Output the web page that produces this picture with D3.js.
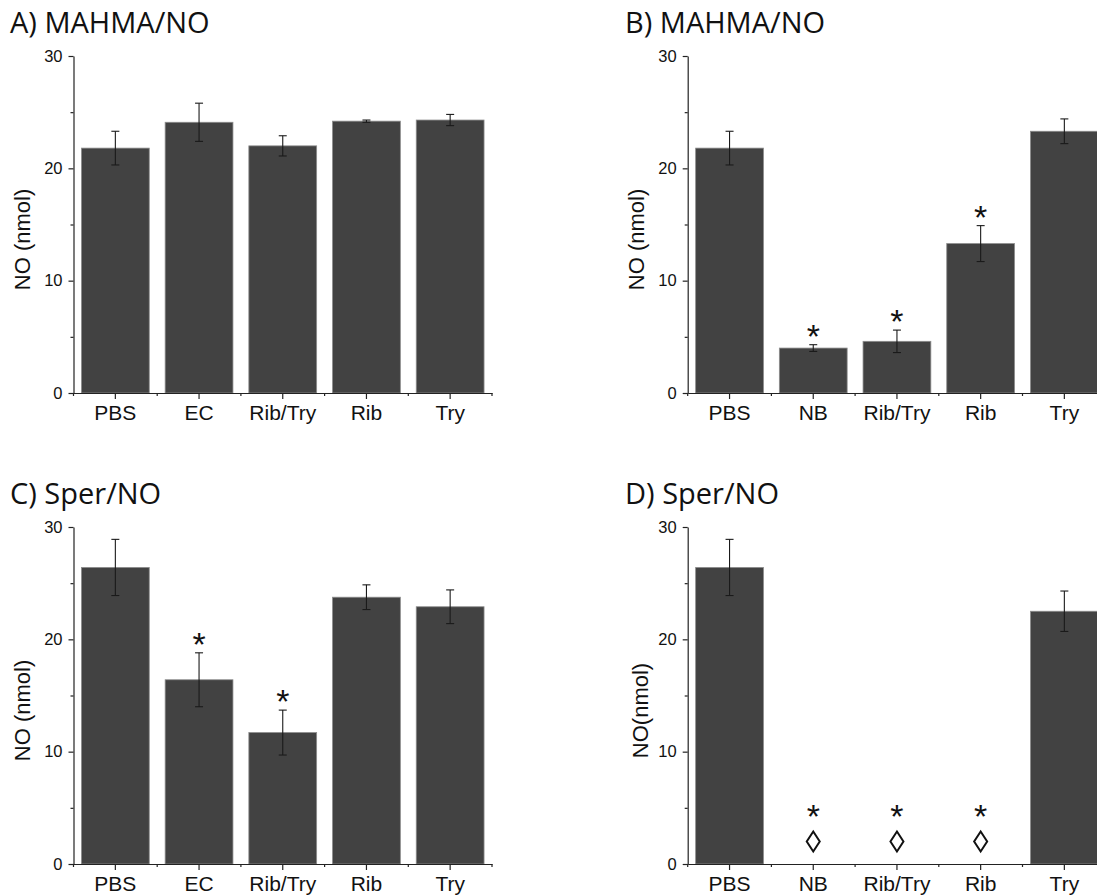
<!DOCTYPE html>
<html>
<head>
<meta charset="utf-8">
<script src="https://cdn.jsdelivr.net/npm/d3@7"></script>
<style>
  body { margin: 0; background: #fff; }
  svg { display: block; }
</style>
</head>
<body>
<svg id="svg" width="1097" height="896"></svg>
<script>
// categories
const catsAC = ["PBS", "EC", "Rib/Try", "Rib", "Try"];
const catsBD = ["PBS", "NB", "Rib/Try", "Rib", "Try"];

// means (nmol) and error bars
const meanA = [21.8, 24.1, 22.0, 24.2, 24.3];
const errA  = [1.5, 1.7, 0.9, 0.1, 0.5];
const meanB = [21.8, 4.0, 4.6, 13.3, 23.3];
const errB  = [1.5, 0.3, 1.0, 1.6, 1.1];
const meanC = [26.4, 16.4, 11.7, 23.75, 22.9];
const errC  = [2.5, 2.4, 2.0, 1.1, 1.5];
const meanD = [26.4, 0, 0, 0, 22.5];
const errD  = [2.5, 0, 0, 0, 1.8];

// significance marks
const starA = [0, 0, 0, 0, 0];
const starB = [0, 1, 1, 1, 0];
const starC = [0, 1, 1, 0, 0];
const starD = [0, 1, 1, 1, 0];
const diamD = [0, 1, 1, 1, 0];
const starLevelD = 4.9;   // centre of the * in D (no bar there)
const diamLevelD = 2.0;   // centre of the ◊ in D

const yTicks = [0, 5, 10, 15, 20, 25, 30];

const panels = [
  {title: "A) MAHMA/NO", cats: catsAC, mean: meanA, err: errA, star: starA, ylab: "NO (nmol)",
   x0: 73.5, y0: 393, y1: 56, tx: 10, ty: 33, labX: 30},
  {title: "B) MAHMA/NO", cats: catsBD, mean: meanB, err: errB, star: starB, ylab: "NO (nmol)",
   x0: 687.7, y0: 393, y1: 56, tx: 625, ty: 33, labX: 644},
  {title: "C) Sper/NO", cats: catsAC, mean: meanC, err: errC, star: starC, ylab: "NO (nmol)",
   x0: 73.5, y0: 864, y1: 527, tx: 10, ty: 504, labX: 30},
  {title: "D) Sper/NO", cats: catsBD, mean: meanD, err: errD, star: starD, diam: diamD, ylab: "NO(nmol)",
   x0: 687.7, y0: 864, y1: 527, tx: 625, ty: 504, labX: 648}
];
const step = 83.7;

const svg = d3.select("#svg");
const axisFont = "'Liberation Sans', Arial, sans-serif";
const starSize = 34;

panels.forEach(p => {
  const g = svg.append("g");
  const x = d3.scaleBand(p.cats, [p.x0, p.x0 + step * p.cats.length]).padding(0);
  const y = d3.scaleLinear([0, 30], [p.y0, p.y1]);
  const bw = x.bandwidth() * 0.81;
  const cx = d => x(d) + x.bandwidth() / 2;

  g.append("text")
    .attr("x", p.tx).attr("y", p.ty)
    .attr("font-family", "'Open Sans', sans-serif")
    .attr("font-size", 29).attr("fill", "#111")
    .text(p.title);

  const rows = p.cats.map((c, i) => ({c, v: p.mean[i], e: p.err[i], s: p.star[i], d: p.diam ? p.diam[i] : 0}));

  // bars
  g.selectAll("rect.bar").data(rows.filter(r => r.v > 0)).join("rect")
    .attr("class", "bar")
    .attr("x", r => cx(r.c) - bw / 2)
    .attr("width", bw)
    .attr("y", r => y(r.v))
    .attr("height", r => y(0) - y(r.v))
    .attr("fill", "#424242")
    .attr("stroke", "#8c8c8c").attr("stroke-width", 0.8);

  // error bars
  const eb = g.selectAll("g.err").data(rows.filter(r => r.e > 0)).join("g").attr("class", "err")
    .attr("stroke", "#1a1a1a").attr("stroke-width", 1.1);
  eb.append("line")
    .attr("x1", r => cx(r.c)).attr("x2", r => cx(r.c))
    .attr("y1", r => y(r.v + r.e)).attr("y2", r => y(r.v - r.e));
  eb.append("line")
    .attr("x1", r => cx(r.c) - 4).attr("x2", r => cx(r.c) + 4)
    .attr("y1", r => y(r.v + r.e)).attr("y2", r => y(r.v + r.e));
  eb.append("line")
    .attr("x1", r => cx(r.c) - 4).attr("x2", r => cx(r.c) + 4)
    .attr("y1", r => y(r.v - r.e)).attr("y2", r => y(r.v - r.e));

  // asterisks: glyph centre sits ~0.57em above the baseline
  g.selectAll("text.star").data(rows.filter(r => r.s)).join("text")
    .attr("class", "star")
    .attr("x", r => cx(r.c))
    .attr("y", r => (r.v > 0 ? y(r.v + r.e) - 16 : y(starLevelD)) + starSize * 0.57)
    .attr("text-anchor", "middle")
    .attr("font-family", axisFont).attr("font-size", starSize).attr("fill", "#111")
    .text("*");

  // diamonds
  g.selectAll("path.diam").data(rows.filter(r => r.d)).join("path")
    .attr("class", "diam")
    .attr("transform", r => `translate(${cx(r.c)},${y(diamLevelD)})`)
    .attr("d", "M0,-10L6.5,0L0,10L-6.5,0Z")
    .attr("fill", "none").attr("stroke", "#111").attr("stroke-width", 2);

  // y axis
  const ya = g.append("g").attr("transform", `translate(${p.x0},0)`)
    .call(d3.axisLeft(y).tickValues(yTicks).tickSize(5).tickSizeOuter(0)
      .tickFormat(d => d % 10 === 0 ? d : ""));
  ya.selectAll(".tick").filter(d => d % 10 !== 0).select("line").attr("x2", -3);
  ya.selectAll("text").attr("font-family", axisFont).attr("font-size", 16.5).attr("fill", "#111").attr("x", -11);
  ya.selectAll("path, line").attr("stroke", "#222").attr("stroke-width", 1.2);

  // x axis
  const xa = g.append("g").attr("transform", `translate(0,${p.y0})`)
    .call(d3.axisBottom(x).tickSize(6).tickSizeOuter(0));
  xa.selectAll("text").attr("font-family", axisFont).attr("font-size", 21).attr("fill", "#111").attr("y", 12);
  xa.selectAll("path, line").attr("stroke", "#222").attr("stroke-width", 1.2);
  const edges = p.cats.map(c => x(c)).concat([x.range()[1]]);
  xa.selectAll("line.minor").data(edges).join("line").attr("class", "minor")
    .attr("x1", d => d).attr("x2", d => d).attr("y1", 0).attr("y2", 3)
    .attr("stroke", "#222").attr("stroke-width", 1.2);

  // y label
  g.append("text")
    .attr("transform", `translate(${p.labX},${(p.y0 + p.y1) / 2 + 15}) rotate(-90)`)
    .attr("text-anchor", "middle")
    .attr("font-family", axisFont).attr("font-size", 22).attr("fill", "#111")
    .text(p.ylab);
});
</script>
</body>
</html>
